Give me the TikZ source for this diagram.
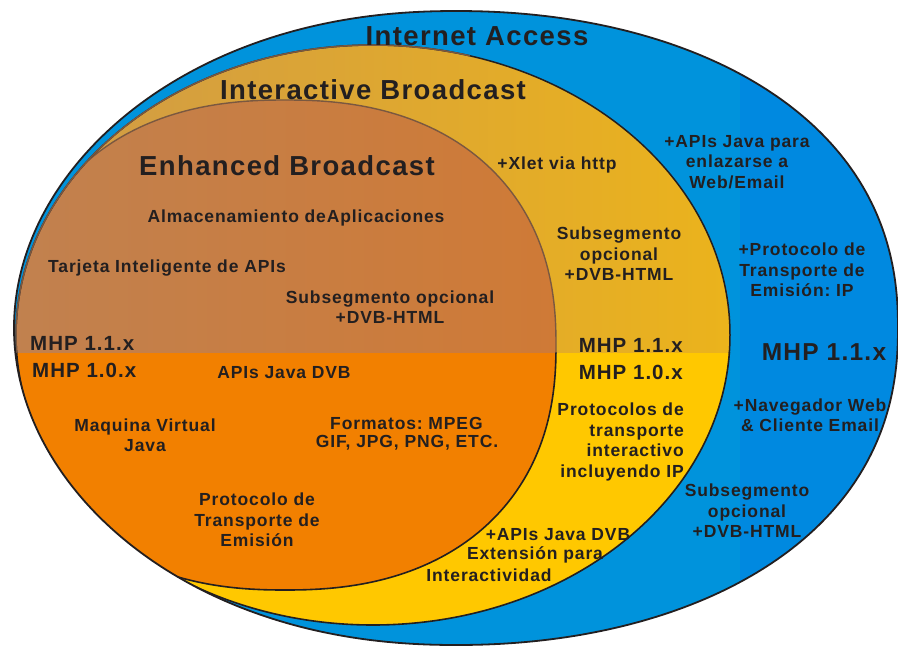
\documentclass[tikz,border=0pt]{standalone}
\usepackage{fontspec}
\newfontfamily\lab{Liberation Sans}[LetterSpace=5]
\definecolor{blueL}{HTML}{0093DC}
\definecolor{blueR}{HTML}{0089E0}
\definecolor{yelL}{HTML}{FFC800}
\definecolor{yelUa}{HTML}{CF9A48}
\definecolor{yelUb}{HTML}{EBB31C}
\definecolor{orL}{HTML}{F28000}
\definecolor{orUa}{HTML}{C1814F}
\definecolor{orUb}{HTML}{CF7A36}
\definecolor{brownln}{HTML}{7A5840}
\definecolor{txt}{HTML}{231F20}
\tikzset{
  lbl/.style={font=\lab\bfseries\frenchspacing\fontsize{17.5}{20.5}\selectfont, text=txt, align=center, inner sep=0pt},
  ttl/.style={font=\lab\bfseries\fontsize{27.5}{30}\selectfont, text=txt, inner sep=0pt},
  mhp/.style={font=\lab\bfseries\fontsize{20.5}{23}\selectfont, text=txt, inner sep=0pt},
  bigmhp/.style={font=\lab\bfseries\fontsize{24.5}{27}\selectfont, text=txt, inner sep=0pt},
}
\begin{document}
\begin{tikzpicture}[x=1pt,y=-1pt]
\useasboundingbox (0,0) rectangle (898,646);
\clip (0,0) rectangle (898,646);
\def\blueE{plot[smooth cycle, domain=1:359, samples=180]
  ({456+442*cos(\x)*abs(cos(\x))^(-0.05-0.05*cos(\x))}, {328+317*sin(\x)*abs(sin(\x))^(-0.05-0.05*cos(\x))})}
\def\yelE{(373,335) ellipse [x radius=357, y radius=290]}
\def\orE{plot[smooth cycle, domain=1:359, samples=180]
  ({285+271*cos(\x)*abs(cos(\x))^(-0.1304)}, {345+245*sin(\x)*abs(sin(\x))^(-0.1304)})}
% blue
\fill[blueL] \blueE;
\begin{scope}
  \clip (740,0) rectangle (898,646);
  \fill[blueR] \blueE;
\end{scope}
\begin{scope}
  \clip \blueE;
  % yellow
  \begin{scope}
    \clip (0,352) rectangle (898,646);
    \fill[yelL] \yelE;
  \end{scope}
  \begin{scope}
    \clip (0,0) rectangle (898,352);
    \clip \yelE;
    \shade[left color=yelUa, right color=yelUb] (16,40) rectangle (730,352);
  \end{scope}
  \begin{scope}
    \clip \yelE;
    % orange
    \begin{scope}
      \clip (0,352) rectangle (898,646);
      \fill[orL] \orE;
    \end{scope}
    \begin{scope}
      \clip (0,0) rectangle (898,352);
      \clip \orE;
      \shade[left color=orUa, right color=orUb] (10,85) rectangle (560,352);
    \end{scope}
    \begin{scope}
      \clip (0,352) rectangle (898,646);
      \draw[txt, line width=1.6pt] \orE;
    \end{scope}
    \begin{scope}
      \clip (0,0) rectangle (898,352);
      \draw[brownln, line width=1.4pt] \orE;
    \end{scope}
  \end{scope}
  % yellow outline
  \begin{scope}
    \clip (0,352) rectangle (898,646);
    \draw[txt, line width=1.6pt] \yelE;
  \end{scope}
  \begin{scope}
    \clip (0,0) rectangle (898,352);
    \draw[txt, line width=1.5pt] \yelE;
    \clip (0,0) rectangle (470,352);
    \draw[brownln, line width=1.5pt] \yelE;
  \end{scope}
\end{scope}
\draw[txt, line width=1.8pt] \blueE;
% titles
\node[ttl] (ia) at (477,36) {Internet Access};
\node[ttl] (ib) at (373,90) {Interactive Broadcast};
\node[ttl] (eb) at (287,166) {Enhanced Broadcast};
% labels
\node[lbl] (xlet) at (557,165) {+Xlet via http};
\node[lbl] (apij) at (737,162) {+APIs Java para\\enlazarse a\\Web/Email};
\node[lbl] (alm) at (296,218) {Almacenamiento deAplicaciones};
\node[lbl] (tar) at (167,268) {Tarjeta Inteligente de APIs};
\node[lbl] (sub1) at (390,307) {Subsegmento opcional\\+DVB-HTML};
\node[lbl] (sub2) at (619,254) {Subsegmento\\opcional\\+DVB-HTML};
\node[lbl] (prot) at (802,270) {+Protocolo de\\Transporte de\\Emisión: IP};
\node[mhp, anchor=west] (m11a) at (30,343) {MHP 1.1.x};
\node[mhp, anchor=west] (m10a) at (32,370) {MHP 1.0.x};
\node[lbl] (apid) at (284,373) {APIs Java DVB};
\node[mhp, anchor=east] (m11b) at (683,345) {MHP 1.1.x};
\node[mhp, anchor=east] (m10b) at (683,372) {MHP 1.0.x};
\node[bigmhp] (m11c) at (824,352) {MHP 1.1.x};
\node[lbl] (maq) at (145,435) {Maquina Virtual\\Java};
\node[lbl, anchor=west] (fmt1) at (330,423) {Formatos: MPEG};
\node[lbl] (fmt2) at (407,443) {GIF, JPG, PNG, ETC.};
\node[lbl, align=right, anchor=east] (ptr) at (684,442) {Protocolos de\\transporte\\interactivo\\incluyendo IP};
\node[lbl] (nav) at (810,415) {+Navegador Web\\\& Cliente Email};
\node[lbl] (sub3) at (747,511) {Subsegmento\\opcional\\+DVB-HTML};
\node[lbl] (pte) at (257,520) {Protocolo de\\Transporte de\\Emisión};
\node[lbl] (ext1) at (558,535) {+APIs Java DVB};
\node[lbl] (ext2) at (535,555) {Extensión para};
\node[lbl] (ext3) at (489,575) {Interactividad};
\end{tikzpicture}
\end{document}
